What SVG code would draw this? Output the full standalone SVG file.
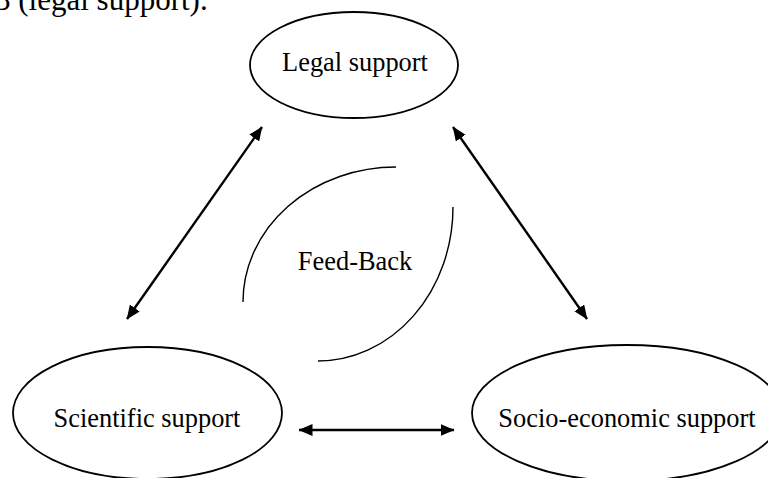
<svg xmlns="http://www.w3.org/2000/svg" width="768" height="478" viewBox="0 0 768 478">
<style>
text{font-family:"Liberation Serif","Times New Roman",serif;fill:#000}
.lbl{font-size:26.4px;text-anchor:middle}
.node ellipse{fill:#fff;stroke:#000;stroke-width:1.8}
.conn line{stroke:#000;stroke-width:2.4;marker-start:url(#ah);marker-end:url(#ah)}
.fb{fill:none;stroke:#000;stroke-width:1.4}
</style>
<defs>
<marker id="ah" markerUnits="userSpaceOnUse" viewBox="0 0 14 12" refX="13.5" refY="6" markerWidth="14" markerHeight="12" orient="auto-start-reverse">
<path d="M0,0 L14,6 L0,12 Z" fill="#000"/>
</marker>
</defs>
<rect width="768" height="478" fill="#fff"/>
<text x="-5" y="10" style="font-size:31px">3 (legal support).</text>
<g id="legal" class="node">
<ellipse cx="354" cy="65" rx="104" ry="53"/>
<text class="lbl" x="355" y="71">Legal support</text>
</g>
<g id="scientific" class="node">
<ellipse cx="147.5" cy="413" rx="134.5" ry="66"/>
<text class="lbl" x="147" y="427">Scientific support</text>
</g>
<g id="socio" class="node">
<ellipse cx="627" cy="413" rx="155" ry="68"/>
<text class="lbl" x="627" y="427">Socio-economic support</text>
</g>
<g id="feedback">
<path class="fb" d="M396,167 A153,135 0 0 0 243,302"/>
<path class="fb" d="M453,207 A135,154 0 0 1 318,361"/>
<text class="lbl" x="355" y="270">Feed-Back</text>
</g>
<g id="connectors" class="conn">
<line x1="262" y1="127" x2="127" y2="319"/>
<line x1="453" y1="127" x2="587" y2="319"/>
<line x1="299" y1="430" x2="454" y2="430"/>
</g>
</svg>
